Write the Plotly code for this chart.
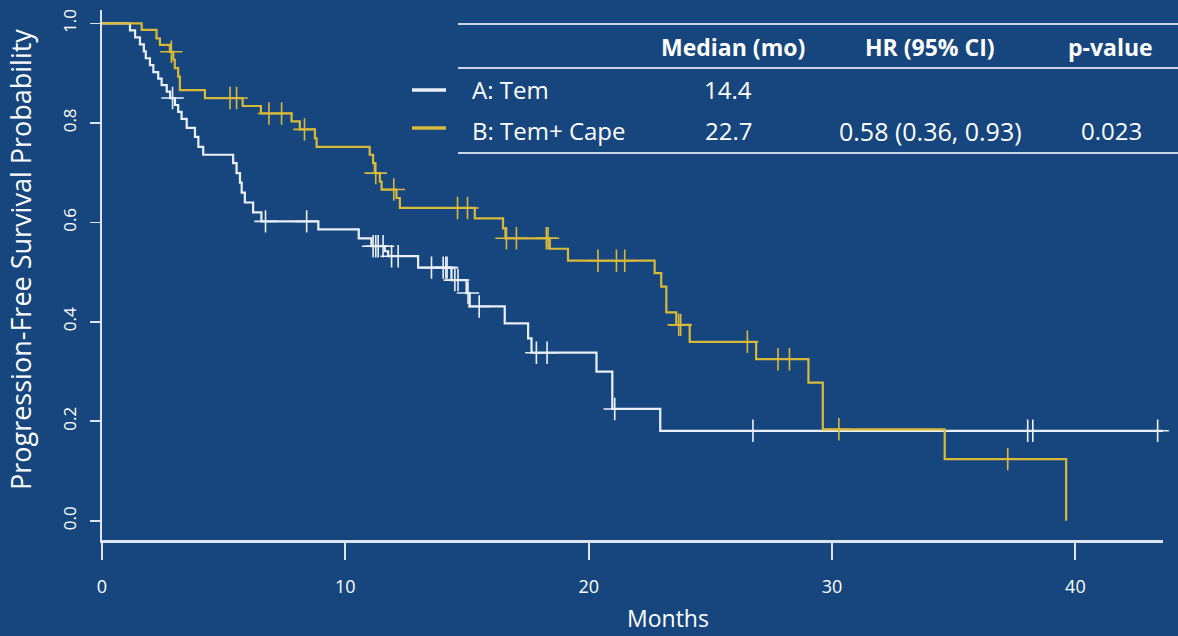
import numpy as np
import plotly.graph_objects as go

# ---------------- data ----------------
times_A = [0, 1.15, 1.36, 1.56, 1.72, 1.80, 1.97, 2.11, 2.31, 2.45,
           2.66, 2.80, 3.00, 3.13, 3.27, 3.48, 3.82, 3.96, 4.16, 5.39,
           5.53, 5.67, 5.74, 5.87, 6.21, 6.55, 8.89, 10.55, 11.07, 11.62,
           11.76, 12.99, 14.36, 14.98, 15.11, 16.55, 17.51, 17.65, 20.32, 20.97,
           22.94, 43.6]
surv_A = [1.0, 0.986, 0.972, 0.958, 0.944, 0.930, 0.916, 0.902, 0.889, 0.876,
          0.863, 0.850, 0.836, 0.822, 0.808, 0.790, 0.772, 0.752, 0.736, 0.719,
          0.699, 0.680, 0.660, 0.640, 0.620, 0.602, 0.586, 0.568, 0.552, 0.542,
          0.532, 0.509, 0.484, 0.458, 0.431, 0.397, 0.367, 0.338, 0.300, 0.225,
          0.181, 0.181]
censor_A = [2.90, 6.72, 8.41, 11.14, 11.25, 11.35, 11.55, 11.90, 12.17, 13.54,
            14.02, 14.13, 14.18, 14.50, 14.63, 15.04, 15.50, 17.85, 18.29, 21.07,
            26.75, 38.04, 38.25, 43.38]

times_B = [0, 1.63, 2.24, 2.38, 2.79, 2.93, 2.99, 3.13, 3.20, 4.23,
           5.78, 6.53, 7.79, 8.13, 8.75, 8.82, 11.00, 11.14, 11.21, 11.42,
           11.49, 12.10, 12.24, 15.32, 16.48, 16.58, 18.40, 19.15, 22.71, 22.98,
           23.19, 23.60, 24.15, 26.88, 29.03, 29.62, 34.63, 39.62]
surv_B = [1.0, 0.987, 0.970, 0.957, 0.943, 0.927, 0.910, 0.893, 0.866, 0.850,
          0.834, 0.819, 0.803, 0.787, 0.769, 0.752, 0.736, 0.719, 0.699, 0.682,
          0.666, 0.649, 0.629, 0.608, 0.588, 0.568, 0.547, 0.523, 0.498, 0.471,
          0.419, 0.394, 0.360, 0.325, 0.278, 0.184, 0.124, 0.0]
censor_B = [2.85, 5.26, 5.53, 6.86, 7.38, 8.32, 11.25, 11.99, 14.61, 15.02,
            16.62, 17.03, 18.26, 18.33, 20.38, 21.14, 21.48, 23.70, 23.78, 26.52,
            27.78, 28.25, 30.28, 37.22]

arm_labels = ["A: Tem", "B: Tem+ Cape"]
table_header = ["Median (mo)", "HR (95% CI)", "p-value"]
medians = ["14.4", "22.7"]
hrs = ["", "0.58 (0.36, 0.93)"]
pvals = ["", "0.023"]

x_ticks = [0, 10, 20, 30, 40]
y_ticks = [0.0, 0.2, 0.4, 0.6, 0.8, 1.0]

# ---------------- styling ----------------
BG = "#16467d"
WHITE = "#eaf0f8"
GOLD = "#d8b93a"
AXIS = "#dce4ef"
FONT = "Open Sans"

W, H = 1178, 636
L, R, T, B = 102, 15, 10, 96
PW, PH = W - L - R, H - T - B


def xp(px):
    return (px - L) / PW


def yp(py):
    return (H - B - py) / PH


def surv_at(times, surv, t):
    idx = np.searchsorted(np.asarray(times), np.asarray(t), side="right") - 1
    return np.asarray(surv)[idx]


fig = go.Figure()

for times, surv, cens, col, name in [
    (times_A, surv_A, censor_A, WHITE, arm_labels[0]),
    (times_B, surv_B, censor_B, GOLD, arm_labels[1]),
]:
    fig.add_trace(go.Scatter(
        x=times, y=surv, mode="lines", line=dict(color=col, width=2.2, shape="hv"),
        name=name, showlegend=False, hoverinfo="skip"))
    fig.add_trace(go.Scatter(
        x=cens, y=surv_at(times, surv, cens), mode="markers",
        marker=dict(symbol="cross-thin", size=16, color=col,
                    line=dict(color=col, width=1.6)),
        showlegend=False, hoverinfo="skip", cliponaxis=False))

shapes = []
# table rules
for py in [24, 68, 153]:
    shapes.append(dict(type="line", xref="paper", yref="paper",
                       x0=xp(458), x1=xp(1178), y0=yp(py), y1=yp(py),
                       line=dict(color="#c9d5e6", width=2)))
# legend keys
for py, col in [(90, WHITE), (128, GOLD)]:
    shapes.append(dict(type="line", xref="paper", yref="paper",
                       x0=xp(412), x1=xp(446), y0=yp(py), y1=yp(py),
                       line=dict(color=col, width=3.5)))

ann = []


def text(px, py, s, size=20, anchor="center", bold=False, angle=0):
    ann.append(dict(xref="paper", yref="paper", x=xp(px), y=yp(py),
                    text=f"<b>{s}</b>" if bold else s, showarrow=False,
                    xanchor=anchor, yanchor="middle", textangle=angle,
                    font=dict(family=FONT, size=size, color="white")))


for s, px in zip(table_header, [733, 930, 1110]):
    text(px, 47, s, size=23, bold=True)
for i, py in enumerate([90, 131]):
    text(470, py, arm_labels[i], size=24, anchor="left")
    text(728, py, medians[i], size=24)
    if hrs[i]:
        text(930, py, hrs[i], size=25)
    if pvals[i]:
        text(1111, py, pvals[i], size=24)

text(20, 260, "Progression-Free Survival Probability", size=27, angle=-90)
text(668, 618, "Months", size=23)

fig.update_layout(
    width=W, height=H,
    margin=dict(l=L, r=R, t=T, b=B),
    paper_bgcolor=BG, plot_bgcolor=BG,
    shapes=shapes, annotations=ann,
    font=dict(family=FONT, color="white"),
    xaxis=dict(range=[0, 43.6], showgrid=False, zeroline=False,
               showline=True, linecolor=AXIS, linewidth=2.5,
               tickvals=x_ticks, ticks="outside", ticklen=17, tickwidth=1.8,
               tickcolor=AXIS, ticklabelstandoff=12,
               tickfont=dict(family=FONT, size=18, color="white")),
    yaxis=dict(range=[-0.0385, 1.027], showgrid=False, zeroline=False,
               showline=True, linecolor=AXIS, linewidth=2,
               tickvals=y_ticks, tickformat=".1f",
               ticks="outside", ticklen=10, tickwidth=1.8, tickcolor=AXIS,
               tickangle=-90, ticklabelstandoff=7,
               tickfont=dict(family=FONT, size=17, color="white")),
)

fig.write_html("out.html",
               config={"displayModeBar": False, "staticPlot": True},
               post_script="document.body.style.margin='0';"
                           "document.body.style.overflow='hidden';")
